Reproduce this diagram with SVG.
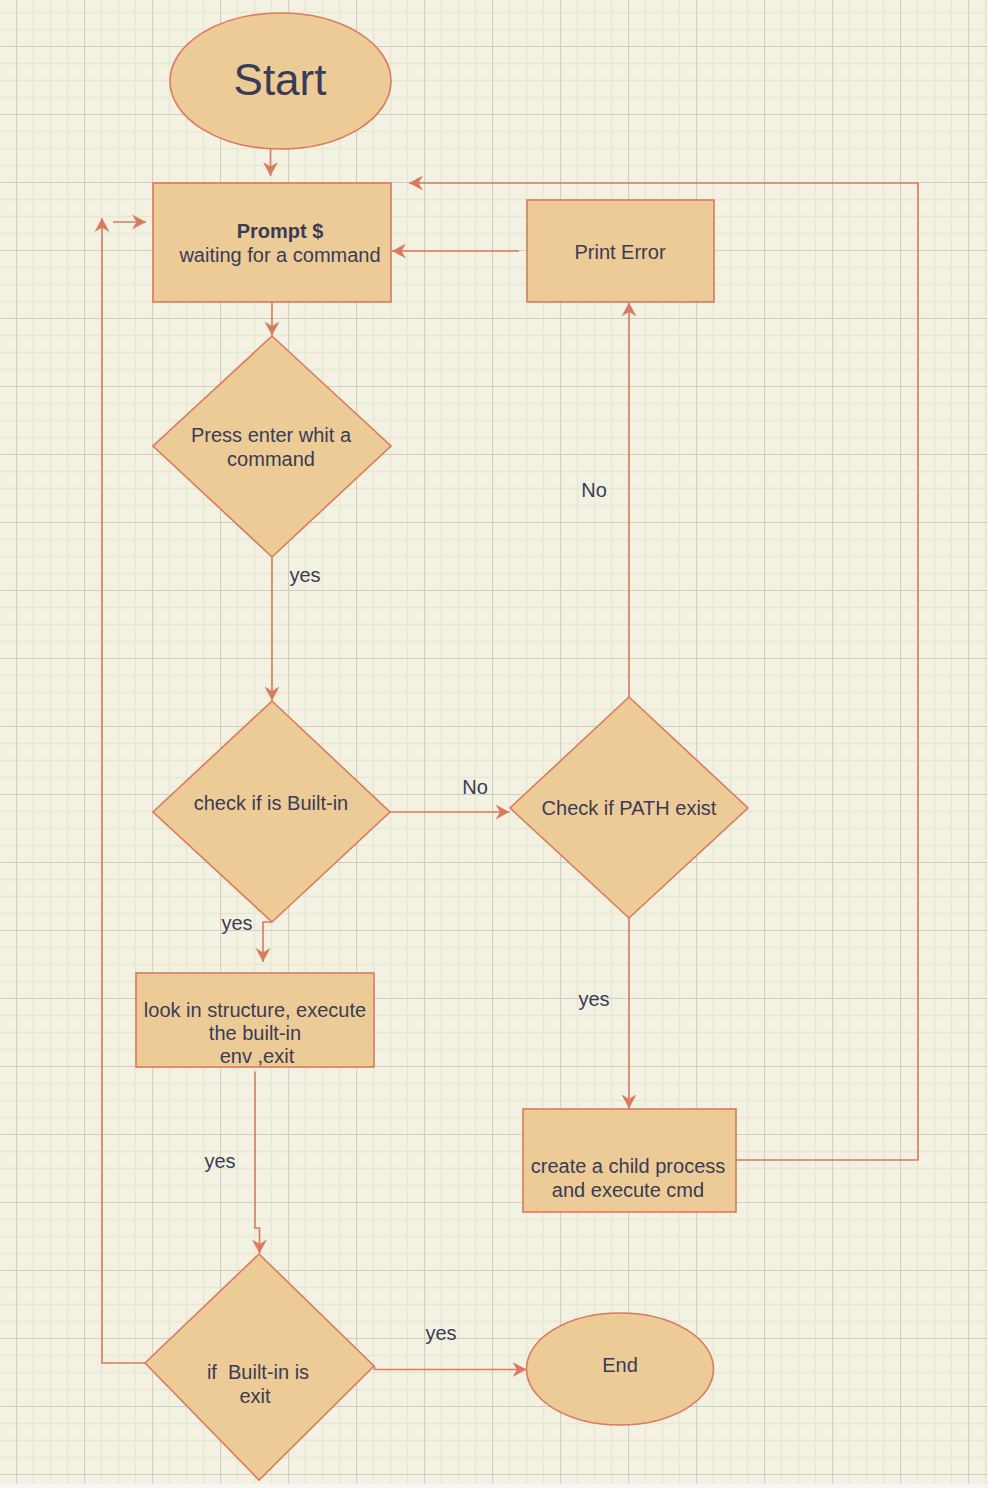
<svg xmlns="http://www.w3.org/2000/svg" width="988" height="1488" viewBox="0 0 988 1488">
<style>
.shape{fill:#EDCB96;stroke:#DA7A5E;stroke-width:1.6}
.edge{fill:none;stroke:#DA7A5E;stroke-width:1.6}
text{font-family:"Liberation Sans",Arial,sans-serif;font-size:20px;fill:#393C56;text-anchor:middle;white-space:pre}
.lbl{font-size:20px}
</style>
<defs>
<pattern id="grid" patternUnits="userSpaceOnUse" x="16" y="46" width="68" height="68">
<path d="M17.5 0V68M34.5 0V68M51.5 0V68M0 17.5H68M0 34.5H68M0 51.5H68" stroke="#E8E6D4" stroke-width="1.6" fill="none"/>
<path d="M0.5 0V68M0 0.5H68" stroke="#D1CFC0" stroke-width="1.2" fill="none"/>
</pattern>
<marker id="arr" markerUnits="userSpaceOnUse" markerWidth="17" markerHeight="17" refX="14" refY="8" orient="auto">
<path d="M0,0.5 L14,8 L0,15.5 L4.5,8 z" fill="#DA7A5E"/>
</marker>
</defs>
<rect x="0" y="0" width="988" height="1488" fill="#F3F1E1"/>
<rect x="0" y="0" width="988" height="1484" fill="url(#grid)"/>
<rect x="0" y="1484" width="988" height="4" fill="#F5F5F2"/>

<g id="connectors">
<path class="edge" d="M270.5,149 V176" marker-end="url(#arr)"/>
<path class="edge" d="M272,302 V335.5" marker-end="url(#arr)"/>
<path class="edge" d="M272,557 V700.5" marker-end="url(#arr)"/>
<path class="edge" d="M390,812 H509.5" marker-end="url(#arr)"/>
<path class="edge" d="M272,922 H263 V962" marker-end="url(#arr)"/>
<path class="edge" d="M255,1071.5 V1228 H259.5 V1253.5" marker-end="url(#arr)"/>
<path class="edge" d="M374.5,1366 V1369.5 H526.5" marker-end="url(#arr)"/>
<path class="edge" d="M145,1363 H102 V218" marker-end="url(#arr)"/>
<path class="edge" d="M113,222 H146" marker-end="url(#arr)"/>
<path class="edge" d="M629,697 V302.5" marker-end="url(#arr)"/>
<path class="edge" d="M629,918 V1108.5" marker-end="url(#arr)"/>
<path class="edge" d="M736,1160 H918 V183 H409" marker-end="url(#arr)"/>
<path class="edge" d="M519,251 H392" marker-end="url(#arr)"/>
<text class="lbl" x="305" y="582">yes</text>
<text class="lbl" x="594" y="497">No</text>
<text class="lbl" x="475" y="794">No</text>
<text class="lbl" x="237" y="930">yes</text>
<text class="lbl" x="594" y="1006">yes</text>
<text class="lbl" x="220" y="1168">yes</text>
<text class="lbl" x="441" y="1340">yes</text>
</g>

<g id="start">
<ellipse class="shape" cx="280.5" cy="81" rx="110.5" ry="68"/>
<text x="280" y="95" style="font-size:44px">Start</text>
</g>

<g id="prompt">
<rect class="shape" x="153" y="183" width="238" height="119"/>
<text x="280" y="238" style="font-weight:bold">Prompt $</text>
<text x="280" y="262">waiting for a command</text>
</g>

<g id="print-error">
<rect class="shape" x="527" y="200" width="187" height="102"/>
<text x="620" y="259">Print Error</text>
</g>

<g id="press-enter">
<polygon class="shape" points="272,336 391,446 272,557 153,446"/>
<text x="271" y="442">Press enter whit a</text>
<text x="271" y="466">command</text>
</g>

<g id="check-builtin">
<polygon class="shape" points="272,701 390,812 272,922 153,812"/>
<text x="271" y="810">check if is Built-in</text>
</g>

<g id="check-path">
<polygon class="shape" points="629,697 748,808 629,918 510,808"/>
<text x="629" y="815">Check if PATH exist</text>
</g>

<g id="look-structure">
<rect class="shape" x="136" y="973" width="238" height="94"/>
<text x="255" y="1017">look in structure, execute</text>
<text x="255" y="1040">the built-in</text>
<text x="257" y="1063">env ,exit</text>
</g>

<g id="create-child">
<rect class="shape" x="523" y="1109" width="213" height="103"/>
<text x="628" y="1173">create a child process</text>
<text x="628" y="1197">and execute cmd</text>
</g>

<g id="if-exit">
<polygon class="shape" points="259,1254 374,1366 259,1480 145,1363"/>
<text x="258" y="1379">if  Built-in is</text>
<text x="255" y="1403">exit</text>
</g>

<g id="end">
<ellipse class="shape" cx="620" cy="1369" rx="93.5" ry="56"/>
<text x="620" y="1372">End</text>
</g>
</svg>
